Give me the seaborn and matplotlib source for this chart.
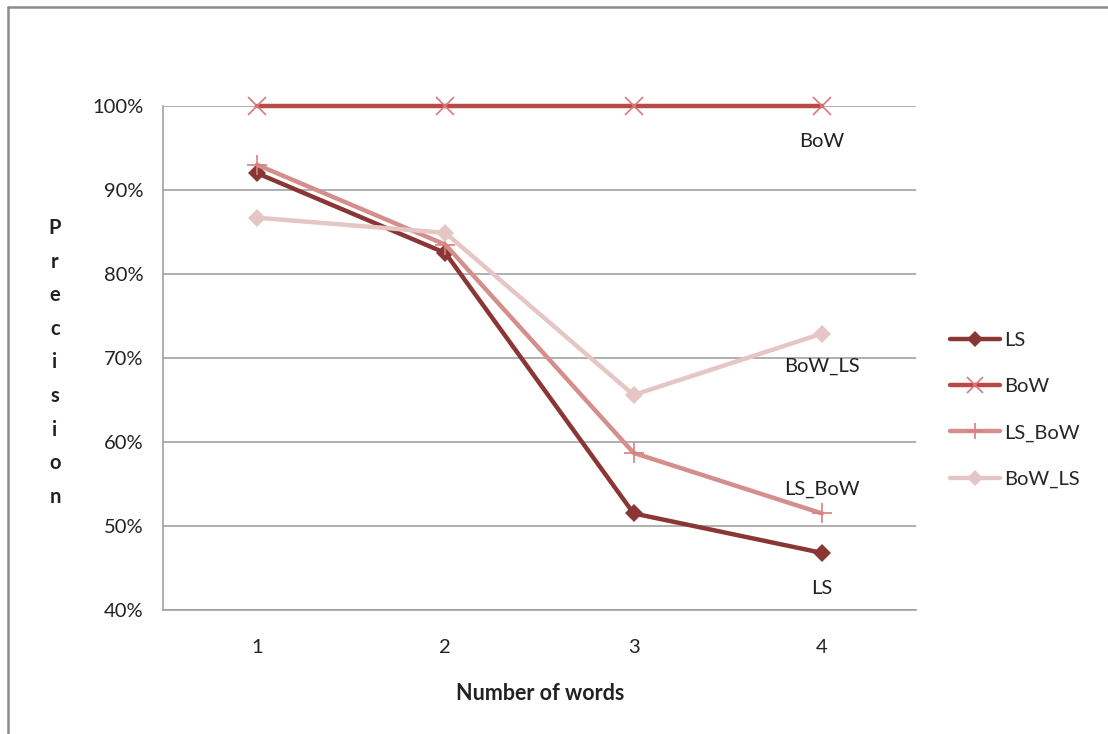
import matplotlib
matplotlib.use("Agg")
import matplotlib.pyplot as plt
from matplotlib.lines import Line2D
import seaborn as sns
import pandas as pd

# ---- data ----
words = [1, 2, 3, 4]
ls_vals = [92.0, 82.5, 51.5, 46.8]
bow_vals = [100.0, 100.0, 100.0, 100.0]
ls_bow_vals = [93.0, 83.5, 58.7, 51.5]
bow_ls_vals = [86.7, 84.9, 65.6, 72.9]
series_names = ["LS", "BoW", "LS_BoW", "BoW_LS"]
y_ticks = [40, 50, 60, 70, 80, 90, 100]

sns.set_theme(style="white")
plt.rcParams['font.family'] = ['Lato', 'DejaVu Sans']

colors = {"LS": "#8A3634", "BoW": "#B94A48", "LS_BoW": "#D48F8D", "BoW_LS": "#E6C6C5"}
mcolors = {"LS": "#8A3634", "BoW": "#D97A78", "LS_BoW": "#D8807E", "BoW_LS": "#E6C6C5"}
markers = {"LS": "D", "BoW": "x", "LS_BoW": "+", "BoW_LS": "D"}
msizes = {"LS": 9, "BoW": 13, "LS_BoW": 14, "BoW_LS": 9}

df = pd.DataFrame({
    "words": words * 4,
    "precision": ls_vals + bow_vals + ls_bow_vals + bow_ls_vals,
    "series": sum([[n] * 4 for n in series_names], []),
})

fig = plt.figure(figsize=(11.08, 7.34), dpi=100)
ax = fig.add_axes([163/1108, 1 - 610/734, (916-163)/1108, (610-106)/734])


def mkw(name, scale=1.0):
    m = markers[name]
    kw = dict(marker=m, markersize=msizes[name] * scale, color=colors[name], linewidth=3.2,
              markeredgecolor=mcolors[name], markerfacecolor=mcolors[name])
    kw["markeredgewidth"] = 1.2 if m in ("x", "+") else 0
    return kw


for name in series_names:
    sub = df[df["series"] == name]
    sns.lineplot(data=sub, x="words", y="precision", ax=ax, label=name,
                 clip_on=False, **mkw(name))

ax.set_xlim(0.5, 4.5)
ax.set_ylim(40, 100)
ax.set_xticks(words)
ax.set_xticklabels([str(w) for w in words], fontsize=14.5, color="#222222")
ax.set_yticks(y_ticks)
ax.set_yticklabels([f"{v}%" for v in y_ticks], fontsize=14.5, color="#222222")
ax.tick_params(axis="both", length=0)
ax.tick_params(axis="y", pad=14)
ax.tick_params(axis="x", pad=21)
ax.yaxis.grid(True, color="#9A9A9A", linewidth=1.1)
ax.xaxis.grid(False)
for s in ["top", "right"]:
    ax.spines[s].set_visible(False)
ax.spines["left"].set_color("#9A9A9A")
ax.spines["bottom"].set_color("#9A9A9A")
ax.spines["left"].set_linewidth(1.1)
ax.spines["bottom"].set_linewidth(1.1)
ax.set_xlabel("")
ax.set_ylabel("")

# direct labels at category 4
label_y = {"BoW": 95.8, "BoW_LS": 69.0, "LS_BoW": 54.4, "LS": 42.6}
for name, yv in label_y.items():
    ax.text(4, yv, name, ha="center", va="center", fontsize=14.5, color="#222222")

# axis titles
fig.text(540/1108, 1 - 693/734, "Number of words", ha="center", va="center",
         fontsize=15.5, fontweight="bold", color="#222222")
ylabel = "Precision"
for i, ch in enumerate(ylabel):
    fig.text(55/1108, 1 - (228 + i * 33.6)/734, ch, ha="center", va="center",
             fontsize=14.5, fontweight="bold", color="#222222")

# legend
ax.get_legend().remove()
handles = [Line2D([0], [0], **mkw(name, 0.85)) for name in series_names]
fig.legend(handles, series_names, loc="center left",
           bbox_to_anchor=(932/1108, 1 - 410/734), frameon=False,
           fontsize=14.5, handlelength=2.5, labelspacing=1.45, handletextpad=0.2)

# outer chart border (left and top visible)
fig.add_artist(Line2D([8/1108, 8/1108], [0, 1 - 7/734], transform=fig.transFigure,
                      color="#8C8C8C", linewidth=1.8))
fig.add_artist(Line2D([8/1108, 1], [1 - 7/734, 1 - 7/734], transform=fig.transFigure,
                      color="#8C8C8C", linewidth=1.8))

fig.savefig("out.png", dpi=100)
